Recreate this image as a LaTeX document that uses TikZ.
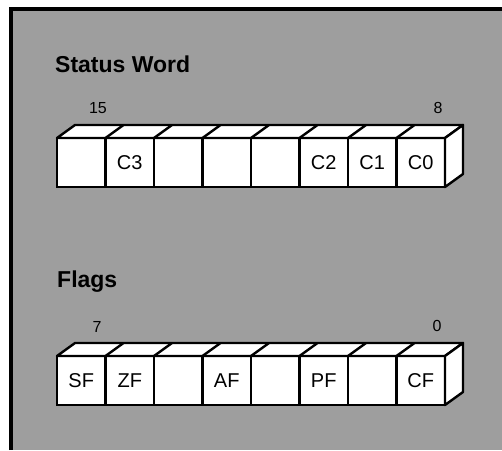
\documentclass[tikz,border=0pt]{standalone}
\usepackage{fontspec}
\setmainfont{Liberation Sans}
\begin{document}
\begin{tikzpicture}[x=1pt,y=-1pt,
 cell/.style={draw=black, fill=white, line width=2.4pt, minimum width=48.5pt, minimum height=49pt,
   inner sep=0pt, outer sep=0pt, anchor=north west, font=\fontsize{20}{20}\selectfont},
 face/.style={draw=black, fill=white, line width=2.4pt, line join=round},
 divider/.style={draw=black, line width=2.4pt},
 title/.style={font=\fontsize{23}{23}\selectfont\bfseries, anchor=west, inner sep=0pt},
 bitnum/.style={font=\fontsize{16}{16}\selectfont, inner sep=0pt}]
\useasboundingbox (0,0) rectangle (502,450);
\fill[white] (0,0) rectangle (502,450);
\fill[black!38] (11,9) rectangle (502,450);
\draw[line width=4pt] (11,450) -- (11,9) -- (502,9);

% Status Word
\node[title] (swt) at (55,64) {Status Word};
\node[bitnum] (s15) at (98,108) {15};
\node[bitnum] (s8n) at (438,108) {8};
\foreach \t [count=\i] in {{},C3,{},{},{},C2,C1,C0}
  \node[cell] (s\i) at ({57+48.5*(\i-1)},138) {\t};
\path[face] (s1.north west) -- (s8.north east) -- ++(18,-13) -- ([xshift=18pt,yshift=13pt]s1.north west) -- cycle;
\path[face] (s8.north east) -- ++(18,-13) -- ([xshift=18pt,yshift=13pt]s8.south east) -- (s8.south east) -- cycle;
\foreach \i in {1,...,7}
  \draw[divider] (s\i.north east) -- ++(18,-13);

% Flags
\node[title] (flt) at (57,282) {Flags};
\node[bitnum] (f7n) at (97,327) {7};
\node[bitnum] (f0n) at (437,326) {0};
\foreach \t [count=\i] in {SF,ZF,{},AF,{},PF,{},CF}
  \node[cell] (f\i) at ({57+48.5*(\i-1)},356) {\t};
\path[face] (f1.north west) -- (f8.north east) -- ++(18,-13) -- ([xshift=18pt,yshift=13pt]f1.north west) -- cycle;
\path[face] (f8.north east) -- ++(18,-13) -- ([xshift=18pt,yshift=13pt]f8.south east) -- (f8.south east) -- cycle;
\foreach \i in {1,...,7}
  \draw[divider] (f\i.north east) -- ++(18,-13);
\end{tikzpicture}
\end{document}
